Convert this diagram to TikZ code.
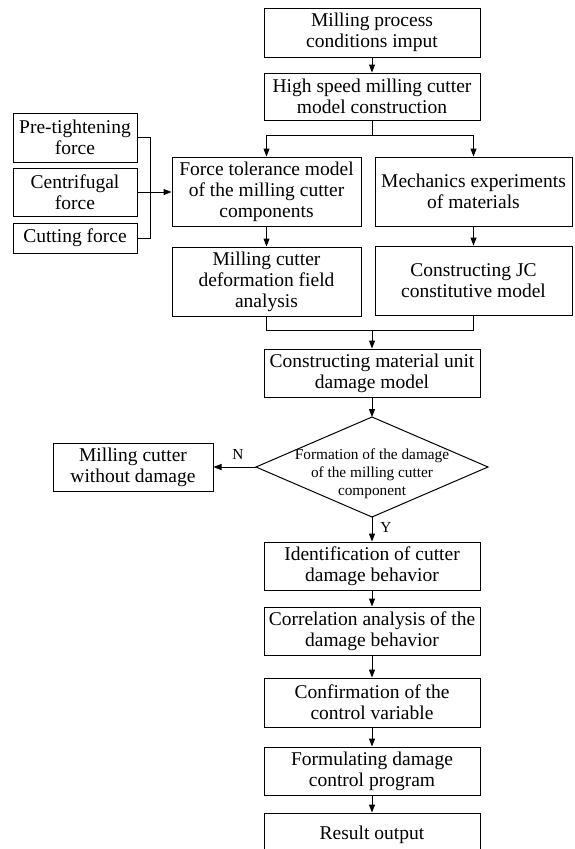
\documentclass[tikz,border=0pt]{standalone}
\usepackage{fontspec}
\setmainfont{Liberation Serif}
\usetikzlibrary{arrows.meta}
\begin{document}
\begin{tikzpicture}[x=1pt,y=-1pt,
  box/.style={draw,line width=1pt,align=center,inner sep=0pt,font=\fontsize{19.5}{21}\selectfont},
  cbox/.style={box,minimum width=216pt},
  lbox/.style={box,minimum width=124pt},
  arr/.style={-{Triangle[length=8pt,width=6pt]},line width=1pt},
  ln/.style={line width=1pt},
  lab/.style={font=\fontsize{15.3}{18}\selectfont,inner sep=0pt}]
\clip (0,0) rectangle (574,849);
\fill[white] (0,0) rectangle (574,849);
% main column
\node[cbox,minimum height=49pt] (b1) at (372,32.5) {Milling process\\conditions imput};
\node[cbox,minimum height=47pt] (b2) at (372,96.5) {High speed milling cutter\\model construction};
% two columns
\node[box,minimum width=189pt,minimum height=69pt] (b3) at (266.5,191.5) {Force tolerance model\\of the milling cutter\\components};
\node[box,minimum width=197pt,minimum height=69pt] (b4) at (473.5,191.5) {Mechanics experiments\\of materials};
\node[box,minimum width=189pt,minimum height=69pt] (b5) at (266.5,281.5) {Milling cutter\\deformation field\\analysis};
\node[box,minimum width=197pt,minimum height=69pt] (b6) at (473.5,280.5) {Constructing JC\\constitutive model};
% left inputs
\node[lbox,minimum height=49pt] (p1) at (75,137.5) {Pre-tightening\\force};
\node[lbox,minimum height=48pt] (p2) at (75,192) {Centrifugal\\force};
\node[lbox,minimum height=30pt] (p3) at (75,238) {Cutting force};
% material model
\node[cbox,minimum height=48pt] (b7) at (372,373) {Constructing material unit\\damage model};
% diamond
\coordinate (dt) at (372,417);
\coordinate (dr) at (488,467);
\coordinate (db) at (372,517);
\coordinate (dl) at (256,467);
\draw[ln] (dt) -- (dr) -- (db) -- (dl) -- cycle;
\node[lab,align=center] (dtext) at (372,474) {Formation of the damage\\of the milling cutter\\component};
\node[box,minimum width=160pt,minimum height=48pt] (b8) at (133,467) {Milling cutter\\without damage};
% lower column
\node[cbox,minimum height=48pt] (b9) at (372,566) {Identification of cutter\\damage behavior};
\node[cbox,minimum height=48pt] (b10) at (372,631) {Correlation analysis of the\\damage behavior};
\node[cbox,minimum height=49pt] (b11) at (372,702.5) {Confirmation of the\\control variable};
\node[cbox,minimum height=48pt] (b12) at (372,771) {Formulating damage\\control program};
\node[cbox,minimum height=44pt] (b13) at (372,835) {Result output};
% labels
\node[lab] (nlab) at (238,454) {N};
\node[lab] (ylab) at (386,527) {Y};
% connectors
\draw[arr] (b1) -- (b2);
\coordinate (split) at (372,135);
\draw[ln] (b2.south) -- (split);
\draw[arr] (split) -| (b3.north);
\draw[arr] (split) -| (b4.north);
\draw[arr] (b3) -- (b5);
\draw[arr] (b4) -- (b6);
\coordinate (merge) at (372,330);
\draw[ln] (b5.south) |- (merge);
\draw[ln] (b6.south) |- (merge);
\draw[arr] (merge) -- (b7.north);
\coordinate (brk) at (150,192);
\draw[ln] (p1.east) -| (brk);
\draw[ln] (p3.east) -| (brk);
\draw[arr] (p2.east) -- (b3.west |- p2.east);
\draw[arr] (b7.south) -- (dt);
\draw[arr] (dl) -- (b8.east);
\draw[arr] (db) -- (b9.north);
\draw[arr] (b9) -- (b10);
\draw[arr] (b10) -- (b11);
\draw[arr] (b11) -- (b12);
\draw[arr] (b12) -- (b13);
\end{tikzpicture}
\end{document}
